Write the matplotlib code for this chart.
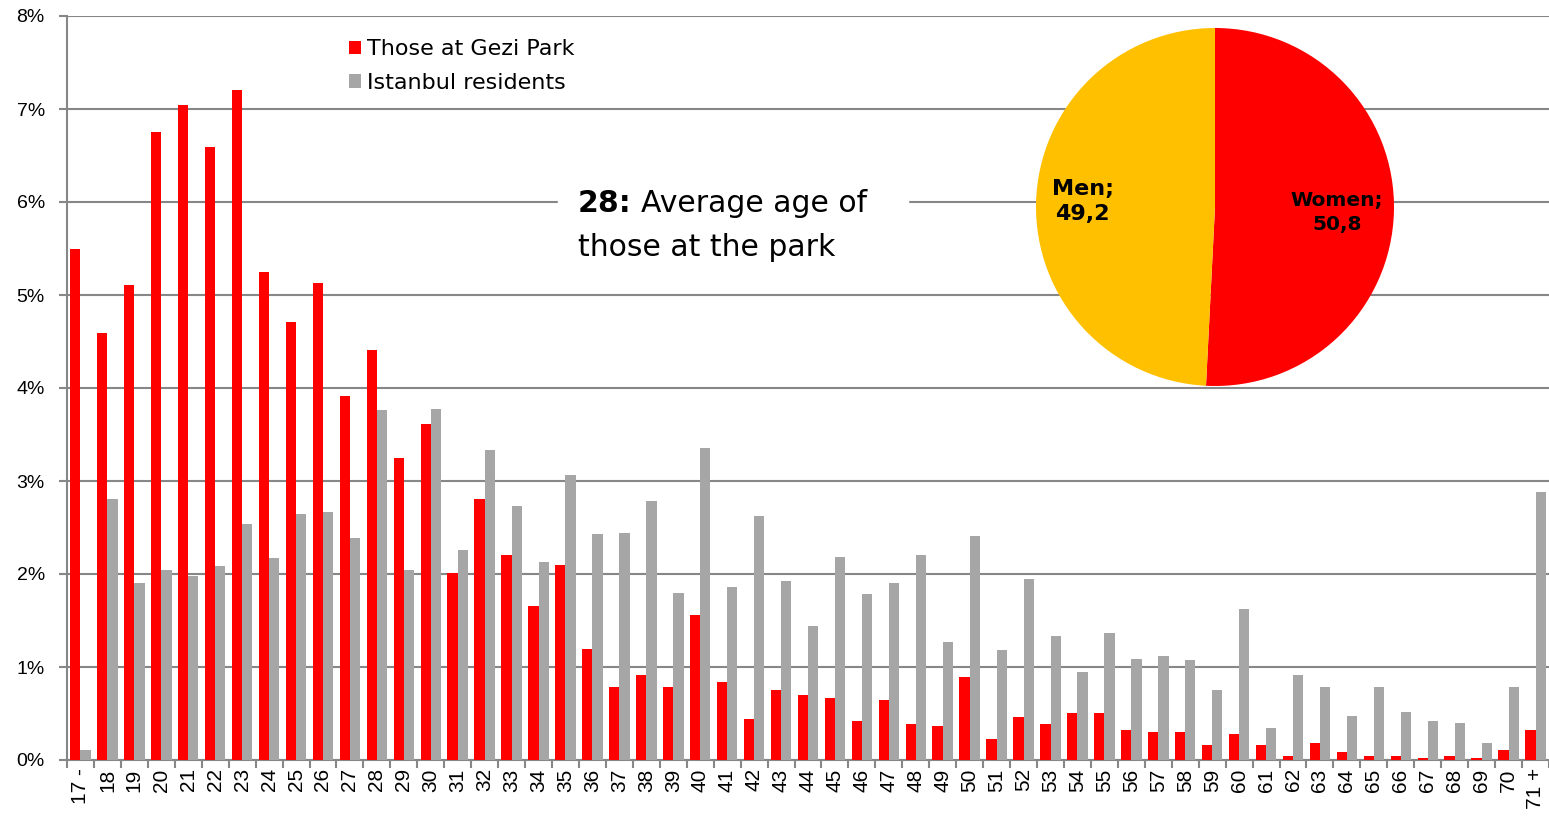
import numpy as np
import matplotlib.pyplot as plt

# ============================================================
# DATA
# ============================================================

AGES = ["17 -"] + [str(a) for a in range(18, 71)] + ["71 +"]

GEZI = [5.49, 4.59, 5.11, 6.75, 7.04, 6.59, 7.20, 5.25, 4.71, 5.13,
        3.91, 4.41, 3.25, 3.61, 2.01, 2.81, 2.20, 1.66, 2.10, 1.19,
        0.79, 0.91, 0.79, 1.56, 0.84, 0.44, 0.75, 0.70, 0.67, 0.42,
        0.65, 0.39, 0.37, 0.89, 0.23, 0.46, 0.39, 0.51, 0.51, 0.32,
        0.30, 0.30, 0.16, 0.28, 0.16, 0.04, 0.18, 0.09, 0.04, 0.04,
        0.02, 0.04, 0.02, 0.11, 0.32]

ISTANBUL = [0.11, 2.81, 1.90, 2.04, 1.98, 2.09, 2.54, 2.17, 2.64, 2.67,
            2.39, 3.76, 2.04, 3.77, 2.26, 3.33, 2.73, 2.13, 3.06, 2.43,
            2.44, 2.78, 1.80, 3.36, 1.86, 2.62, 1.92, 1.44, 2.18, 1.78,
            1.90, 2.20, 1.27, 2.41, 1.18, 1.95, 1.33, 0.95, 1.37, 1.09,
            1.12, 1.07, 0.75, 1.62, 0.34, 0.91, 0.79, 0.47, 0.79, 0.52,
            0.42, 0.40, 0.18, 0.78, 2.88]

SEX_LABELS = ["Women", "Men"]
SEX_VALUES = [50.8, 49.2]

RED = "#FF0000"
GREY = "#A6A6A6"
GOLD = "#FFC000"
GRID = "#878787"

# ============================================================
# PLOT
# ============================================================

plt.rcParams["font.family"] = ["Liberation Sans", "DejaVu Sans"]
WIDE = ["DejaVu Sans"]

W, H = 1549, 824
fig = plt.figure(figsize=(W / 100, H / 100), dpi=100)
ax = fig.add_axes([67 / W, 64 / H, (W - 67) / W, (760 - 16) / H])

x = np.arange(len(AGES))
bw = 0.38
ax.bar(x - bw / 2, GEZI, width=bw, color=RED, label="Those at Gezi Park", zorder=3)
ax.bar(x + bw / 2, ISTANBUL, width=bw, color=GREY, label="Istanbul residents", zorder=3)

ax.set_xlim(-0.5, len(AGES) - 0.5)
ax.set_ylim(0, 8)
ax.set_yticks(range(0, 9))
ax.set_yticklabels([f"{v}%" for v in range(0, 9)], fontsize=14)
ax.yaxis.grid(True, color=GRID, linewidth=1.5, zorder=0)
ax.tick_params(axis="y", length=6, width=1.5, color=GRID, pad=10)

ax.set_xticks(x)
ax.set_xticklabels(AGES, rotation=90, fontsize=15)
ax.set_xticks(np.arange(len(AGES) + 1) - 0.5, minor=True)
ax.tick_params(axis="x", which="major", length=0, pad=6)
ax.tick_params(axis="x", which="minor", length=6, width=1.5, color=GRID)

for s in ["top", "right"]:
    ax.spines[s].set_visible(False)
for s in ["left", "bottom"]:
    ax.spines[s].set_color(GRID)
    ax.spines[s].set_linewidth(1.5)

leg = ax.legend(loc="upper left", bbox_to_anchor=(338 / W, 1 - 28 / H),
                bbox_transform=fig.transFigure, frameon=False,
                prop={"family": WIDE, "size": 16},
                handlelength=0.55, handleheight=0.55, handletextpad=0.25,
                labelspacing=0.62, borderpad=0)

# average age note (white box hides the 6% gridline)
fig.patches.append(plt.Rectangle((558 / W, 1 - 215 / H), 350 / W, 30 / H,
                                 transform=fig.transFigure, color="white", zorder=5))
fig.text(578 / W, 1 - 203 / H, "28:", fontsize=21.5, fontweight="bold",
         family=WIDE, va="center", ha="left", zorder=6)
fig.text(641 / W, 1 - 203 / H, "Average age of", fontsize=21.5, family=WIDE,
         va="center", ha="left", zorder=6)
fig.text(578 / W, 1 - 248 / H, "those at the park", fontsize=21.5, family=WIDE,
         va="center", ha="left", zorder=6)

# gender pie
r = 179
cx, cy = 1215, 207
pax = fig.add_axes([(cx - r) / W, 1 - (cy + r) / H, 2 * r / W, 2 * r / H])
pax.pie(SEX_VALUES, colors=[RED, GOLD], startangle=90, counterclock=False,
        radius=1.0)
pax.set_xlim(-1, 1)
pax.set_ylim(-1, 1)
pax.text(0.68, -0.03, f"{SEX_LABELS[0]};\n{SEX_VALUES[0]:.1f}".replace(".", ","),
         ha="center", va="center", fontsize=14.5, fontweight="bold",
         family=WIDE, linespacing=1.3)
pax.text(-0.74, 0.03, f"{SEX_LABELS[1]};\n{SEX_VALUES[1]:.1f}".replace(".", ","),
         ha="center", va="center", fontsize=16, fontweight="bold",
         family=WIDE, linespacing=1.3)

fig.savefig("out.png", dpi=100, facecolor="white")
